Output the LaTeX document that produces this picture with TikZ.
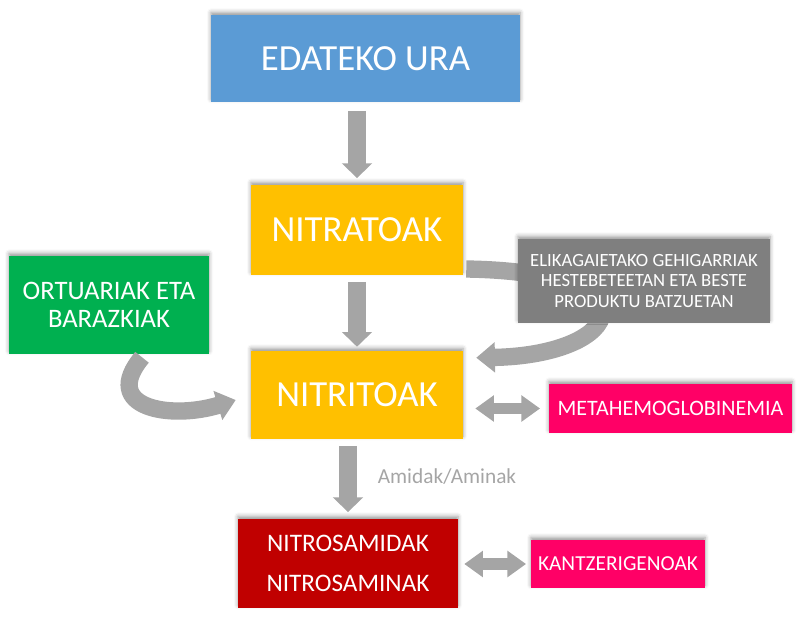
\documentclass[tikz,border=0pt]{standalone}
\usepackage{fontspec}
\setmainfont{Carlito}
\usepackage{tikz}
\usetikzlibrary{arrows.meta,positioning,calc,shadows.blur}
\definecolor{uraBlue}{HTML}{5B9BD5}
\definecolor{nitYellow}{HTML}{FFC000}
\definecolor{ortuGreen}{HTML}{00B050}
\definecolor{gehiGray}{HTML}{7F7F7F}
\definecolor{arrGray}{HTML}{A5A5A5}
\definecolor{pinkRed}{HTML}{FF0066}
\definecolor{darkRed}{HTML}{C00000}

\begin{document}
\begin{tikzpicture}[x=0.75pt,y=-0.75pt,
  box/.style={inner sep=0pt,align=center,text=white,
    blur shadow={shadow xshift=0pt,shadow yshift=2pt,shadow blur radius=3pt,shadow opacity=40}},
  big/.style={font=\fontsize{27.6}{32}\selectfont},
  arr/.style={draw=arrGray,line width=14pt,-{Triangle[length=11pt,width=22pt]}},
  dbl/.style={draw=arrGray,line width=8.5pt,{Triangle[length=14pt,width=19pt]}-{Triangle[length=14pt,width=19pt]}},
  curvarr/.style={draw=arrGray,line width=13pt,-{Triangle[length=14pt,width=22pt]}}]
\useasboundingbox (0,0) rectangle (806,618);
% boxes
\node[box,big,fill=uraBlue,minimum width=231.75pt,minimum height=65.25pt] (ura) at (365.5,58.5) {EDATEKO URA};
\node[box,big,fill=nitYellow,minimum width=159pt,minimum height=67.5pt] (nitrat) at (357,230) {NITRATOAK};
\node[box,big,fill=nitYellow,minimum width=159pt,minimum height=66pt] (nitrit) at (357,395) {NITRITOAK};
\node[box,fill=ortuGreen,minimum width=150pt,minimum height=73.5pt,
  font=\fontsize{20}{21.5}\selectfont] (ortu) at (109,305) {ORTUARIAK ETA\\BARAZKIAK};
\node[box,fill=darkRed,minimum width=165pt,minimum height=66.75pt,
  font=\fontsize{18.9}{30}\selectfont] (nitros) at (348,563.5) {NITROSAMIDAK\\NITROSAMINAK};
\node[box,fill=pinkRed,minimum width=182.25pt,minimum height=36.75pt,
  font=\fontsize{16.5}{19}\selectfont] (metahem) at (670.5,408.5) {METAHEMOGLOBINEMIA};
\node[box,fill=pinkRed,minimum width=130.5pt,minimum height=36pt,
  font=\fontsize{16}{19}\selectfont] (kantz) at (618,564) {KANTZERIGENOAK};
% straight arrows
\draw[arr,shorten <=6.5pt,shorten >=5pt] (nitrat|-ura.south) -- (nitrat.north);
\draw[arr,shorten <=5pt,shorten >=3pt] (nitrat.south) -- (nitrit.north);
\draw[arr,shorten <=5pt,shorten >=5pt] (nitros|-nitrit.south) -- (nitros.north);
\node[text=arrGray,font=\fontsize{16}{19}\selectfont] (amid) at (447,477) {Amidak/Aminak};
\draw[dbl,shorten <=9pt,shorten >=6.5pt] (nitrit.east|-metahem) -- (metahem.west);
\draw[dbl,shorten <=4.5pt,shorten >=3.5pt] (nitros.east|-kantz) -- (kantz.west);
% curved arrows
\coordinate (gtip) at ($(nitrit.west)+(-15,5)$);
\draw[curvarr] ($(ortu.south)+(33,3)$) .. controls (100,408) and (170,420) .. (gtip);
\coordinate (ytip) at ($(nitrit.north east)+(13,7)$);
\draw[curvarr] ($(nitrat.east)+(3,39)$) .. controls (660,272) and (625,355) .. (ytip);
\node[box,fill=gehiGray,minimum width=189pt,minimum height=63pt,
  font=\fontsize{14}{15.4}\selectfont] (gehig) at (644,281) {ELIKAGAIETAKO GEHIGARRIAK\\HESTEBETEETAN ETA BESTE\\PRODUKTU BATZUETAN};
\end{tikzpicture}
\end{document}
